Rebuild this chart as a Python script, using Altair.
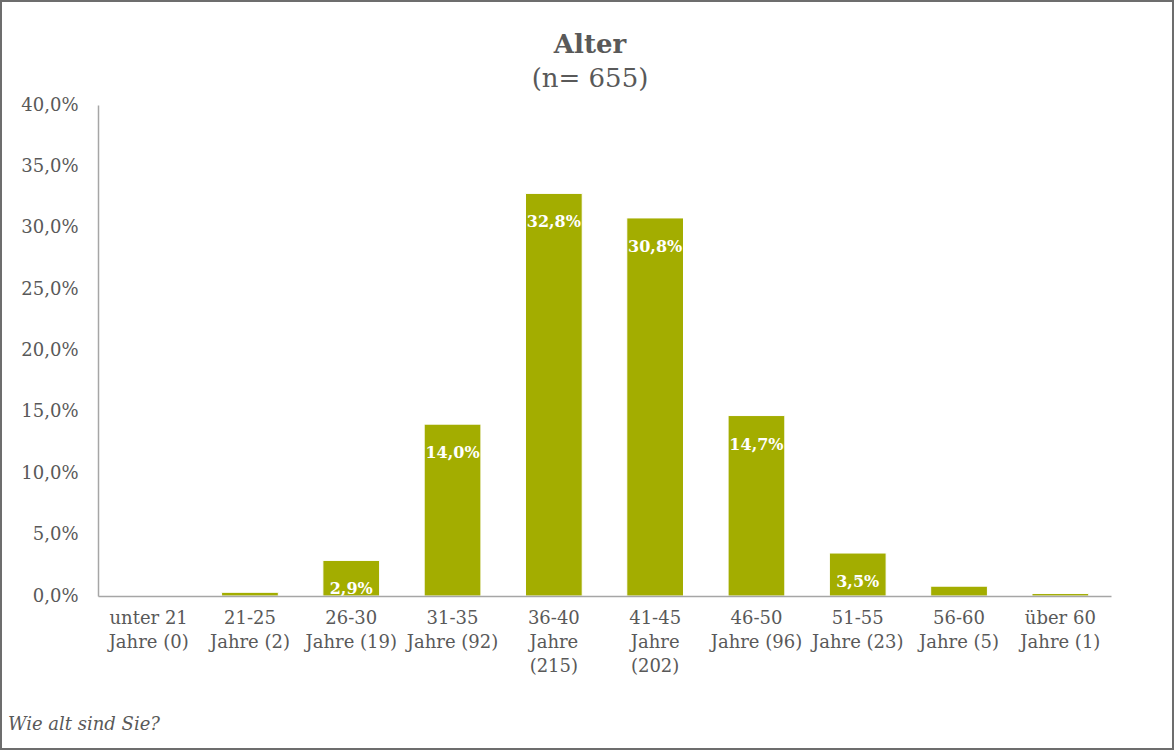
import altair as alt
import pandas as pd

categories = ["unter 21\nJahre (0)", "21-25\nJahre (2)", "26-30\nJahre (19)", "31-35\nJahre (92)",
              "36-40\nJahre\n(215)", "41-45\nJahre\n(202)", "46-50\nJahre (96)", "51-55\nJahre (23)",
              "56-60\nJahre (5)", "über 60\nJahre (1)"]
percent = [0.0, 0.3, 2.9, 14.0, 32.8, 30.8, 14.7, 3.5, 0.8, 0.2]
shown_labels = ["", "", "2,9%", "14,0%", "32,8%", "30,8%", "14,7%", "3,5%", "", ""]
y_ticks = [0, 5, 10, 15, 20, 25, 30, 35, 40]
title_text = "Alter"
subtitle_text = "(n= 655)"
footer_text = "Wie alt sind Sie?"

FONT = "DejaVu Serif"
GRAY = "#595959"
GREEN = "#A3AD00"

df = pd.DataFrame({"cat": categories, "pct": percent, "lab": shown_labels})

W, H = 1013, 491
PL, PT = 98, 105

x = alt.X("cat:N", sort=categories, title=None,
          scale=alt.Scale(paddingInner=0.44, paddingOuter=0.22),
          axis=alt.Axis(labelAngle=0, labelFont=FONT, labelFontSize=18, labelColor=GRAY,
                        labelLineHeight=24, labelPadding=13, ticks=False, domainColor="#a6a6a6",
                        domainWidth=1.5, labelLimit=200, zindex=1,
                        labelExpr="split(datum.label, '\\n')"))
y = alt.Y("pct:Q", title=None,
          scale=alt.Scale(domain=[0, 40], nice=False),
          axis=alt.Axis(values=y_ticks, labelFont=FONT, labelFontSize=18, labelColor=GRAY,
                        labelPadding=20, ticks=False, grid=False, domainColor="#a6a6a6",
                        domainWidth=1.5,
                        labelExpr="replace(format(datum.value, '.1f'), '.', ',') + '%'"))

bars = alt.Chart(df).mark_bar(color=GREEN, stroke="white", strokeWidth=1).encode(x=x, y=y)

labels = alt.Chart(df).mark_text(font=FONT, fontSize=16, fontWeight="bold", color="white",
                                 baseline="middle", dy=29).encode(
    x=alt.X("cat:N", sort=categories), y="pct:Q", text="lab:N")

one = pd.DataFrame({"t": [title_text], "s": [subtitle_text], "f": [footer_text]})
title = alt.Chart(one).mark_text(font=FONT, fontSize=26, fontWeight="bold", color=GRAY,
                                 align="center", baseline="alphabetic").encode(
    x=alt.value(590 - PL), y=alt.value(53 - PT), text="t:N")
subtitle = alt.Chart(one).mark_text(font=FONT, fontSize=26, color=GRAY,
                                    align="center", baseline="alphabetic").encode(
    x=alt.value(590 - PL), y=alt.value(87 - PT), text="s:N")
footer = alt.Chart(one).mark_text(font=FONT, fontSize=18, fontStyle="italic", color=GRAY,
                                  align="left", baseline="alphabetic").encode(
    x=alt.value(8 - PL), y=alt.value(730 - PT), text="f:N")
border = alt.Chart(one).mark_rect(fill="transparent", stroke="#6d6d6d", strokeWidth=2).encode(
    x=alt.value(1 - PL), x2=alt.value(1173 - PL), y=alt.value(1 - PT), y2=alt.value(749 - PT))

chart = alt.layer(bars, labels, title, subtitle, footer, border).properties(
    width=W, height=H,
    autosize=alt.AutoSizeParams(type="none"),
    padding={"left": PL, "top": PT, "right": 1175 - PL - W, "bottom": 751 - PT - H},
    background="white",
).configure_view(stroke=None)

chart.save("out.html", embed_options={"renderer": "svg", "actions": False})
